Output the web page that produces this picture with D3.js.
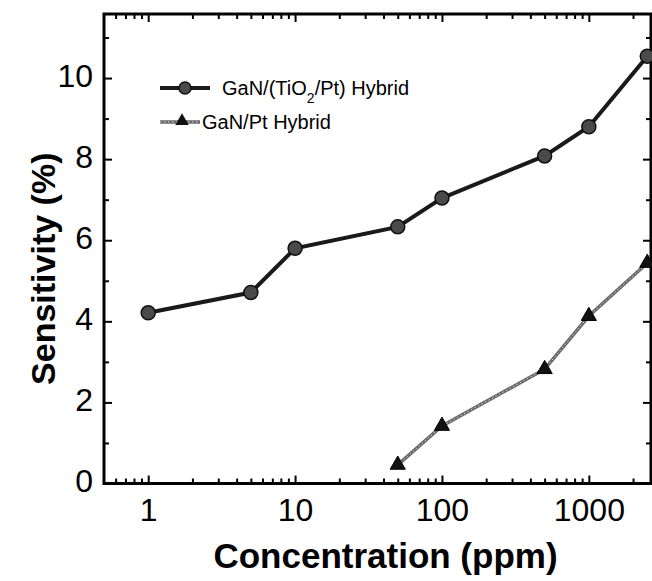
<!DOCTYPE html>
<html>
<head>
<meta charset="utf-8">
<script src="https://cdn.jsdelivr.net/npm/d3@7"></script>
<style>
  html, body { margin: 0; padding: 0; background: #fff; }
  svg { display: block; font-family: "Liberation Sans", Arial, sans-serif; }
</style>
</head>
<body>
<svg id="chart" width="652" height="581"></svg>
<script>
// ---- data ----
const concTiO2 = [1, 5, 10, 50, 100, 500, 1000, 2500];
const sensTiO2 = [4.21, 4.71, 5.80, 6.33, 7.04, 8.08, 8.80, 10.54];
const concPt = [50, 100, 500, 1000, 2500];
const sensPt = [0.46, 1.42, 2.82, 4.13, 5.44];
const xMajorTicks = [1, 10, 100, 1000];
const xTickLabels = ["1", "10", "100", "1000"];
const xMinorTicks = [0.6, 0.7, 0.8, 0.9, 2, 3, 4, 5, 6, 7, 8, 9, 20, 30, 40, 50, 60, 70, 80, 90,
                     200, 300, 400, 500, 600, 700, 800, 900, 2000];
const yMajorTicks = [0, 2, 4, 6, 8, 10];
const yMinorTicks = [1, 3, 5, 7, 9, 11];
const seriesNames = ["GaN/(TiO", "2", "/Pt) Hybrid", "GaN/Pt Hybrid"];
const xTitle = "Concentration (ppm)";
const yTitle = "Sensitivity (%)";

// ---- layout ----
const L = 104, R = 651, T = 14, B = 483.5;
const svg = d3.select("#chart");

const x = d3.scaleLog().domain([0.5, 2650]).range([L, R]);
const y = d3.scaleLinear().domain([0, 11.58]).range([B, T]);

// frame
svg.append("rect")
  .attr("x", L).attr("y", T).attr("width", R - L).attr("height", B - T)
  .attr("fill", "none").attr("stroke", "#000").attr("stroke-width", 3);

function styleAxis(g) {
  g.select(".domain").remove();
  g.selectAll(".tick line").attr("stroke", "#000").attr("stroke-width", 2);
}

// bottom axis major
svg.append("g").attr("transform", `translate(0,${B})`)
  .call(d3.axisBottom(x).tickValues(xMajorTicks).tickSize(-8).tickPadding(15)
    .tickFormat((d, i) => xTickLabels[i]))
  .call(styleAxis)
  .call(g => g.selectAll("text").attr("font-size", 32).attr("fill", "#000")
    .attr("font-family", "Liberation Sans, Arial, sans-serif"));
svg.append("g").attr("transform", `translate(0,${B})`)
  .call(d3.axisBottom(x).tickValues(xMinorTicks).tickSize(-5).tickFormat(""))
  .call(styleAxis);
// top axis
svg.append("g").attr("transform", `translate(0,${T})`)
  .call(d3.axisTop(x).tickValues(xMajorTicks).tickSize(-8).tickFormat(""))
  .call(styleAxis);
svg.append("g").attr("transform", `translate(0,${T})`)
  .call(d3.axisTop(x).tickValues(xMinorTicks).tickSize(-5).tickFormat(""))
  .call(styleAxis);

// left axis
svg.append("g").attr("transform", `translate(${L},0)`)
  .call(d3.axisLeft(y).tickValues(yMajorTicks).tickSize(-8).tickPadding(11)
    .tickFormat(d3.format("d")))
  .call(styleAxis)
  .call(g => g.selectAll("text").attr("font-size", 32).attr("fill", "#000")
    .attr("dy", "0.26em")
    .attr("font-family", "Liberation Sans, Arial, sans-serif"));
svg.append("g").attr("transform", `translate(${L},0)`)
  .call(d3.axisLeft(y).tickValues(yMinorTicks).tickSize(-5).tickFormat(""))
  .call(styleAxis);
// right axis
svg.append("g").attr("transform", `translate(${R},0)`)
  .call(d3.axisRight(y).tickValues(yMajorTicks).tickSize(-8).tickFormat(""))
  .call(styleAxis);
svg.append("g").attr("transform", `translate(${R},0)`)
  .call(d3.axisRight(y).tickValues(yMinorTicks).tickSize(-5).tickFormat(""))
  .call(styleAxis);

// axis titles
svg.append("text")
  .attr("x", 385.5).attr("y", 568)
  .attr("text-anchor", "middle").attr("font-size", 35).attr("font-weight", "bold")
  .text(xTitle);
svg.append("text")
  .attr("transform", `translate(55,${(T + B) / 2 + 20}) rotate(-90)`)
  .attr("text-anchor", "middle").attr("font-size", 34).attr("font-weight", "bold")
  .text(yTitle);

// series
const line = d3.line().x(d => x(d[0])).y(d => y(d[1]));
const dTiO2 = concTiO2.map((c, i) => [c, sensTiO2[i]]);
const dPt = concPt.map((c, i) => [c, sensPt[i]]);

svg.append("path").datum(dPt).attr("d", line)
  .attr("fill", "none").attr("stroke", "#6a6a6a").attr("stroke-width", 3.5);
svg.append("path").datum(dPt).attr("d", line)
  .attr("fill", "none").attr("stroke", "#d8d8d8").attr("stroke-width", 1)
  .attr("stroke-dasharray", "1.5,2.5");

svg.append("path").datum(dTiO2).attr("d", line)
  .attr("fill", "none").attr("stroke", "#1a1a1a").attr("stroke-width", 4);

const tri = d3.symbol().type(d3.symbolTriangle).size(100);
svg.selectAll(".tri").data(dPt).join("path")
  .attr("transform", d => `translate(${x(d[0])},${y(d[1])})`)
  .attr("d", tri).attr("fill", "#111").attr("stroke", "#000").attr("stroke-width", 1);

svg.selectAll(".circ").data(dTiO2).join("circle")
  .attr("cx", d => x(d[0])).attr("cy", d => y(d[1])).attr("r", 7)
  .attr("fill", "#4a4a4a").attr("stroke", "#111").attr("stroke-width", 1.5);

// legend
const lg = svg.append("g");
lg.append("line").attr("x1", 160).attr("x2", 210).attr("y1", 88).attr("y2", 88)
  .attr("stroke", "#1a1a1a").attr("stroke-width", 4);
lg.append("circle").attr("cx", 185).attr("cy", 88).attr("r", 6)
  .attr("fill", "#4a4a4a").attr("stroke", "#111").attr("stroke-width", 1.5);
const t1 = lg.append("text").attr("x", 222).attr("y", 95).attr("font-size", 20);
t1.append("tspan").text(seriesNames[0]);
t1.append("tspan").attr("dy", 8).attr("font-size", 14).text(seriesNames[1]);
t1.append("tspan").attr("dy", -8).text(seriesNames[2]);

lg.append("line").attr("x1", 160).attr("x2", 200).attr("y1", 122).attr("y2", 122)
  .attr("stroke", "#6a6a6a").attr("stroke-width", 3.5);
lg.append("line").attr("x1", 160).attr("x2", 200).attr("y1", 122).attr("y2", 122)
  .attr("stroke", "#d8d8d8").attr("stroke-width", 1).attr("stroke-dasharray", "1.5,2.5");
lg.append("path").attr("transform", "translate(182,121)")
  .attr("d", d3.symbol().type(d3.symbolTriangle).size(80)).attr("fill", "#111");
lg.append("text").attr("x", 202).attr("y", 129).attr("font-size", 20).text(seriesNames[3]);
</script>
</body>
</html>
